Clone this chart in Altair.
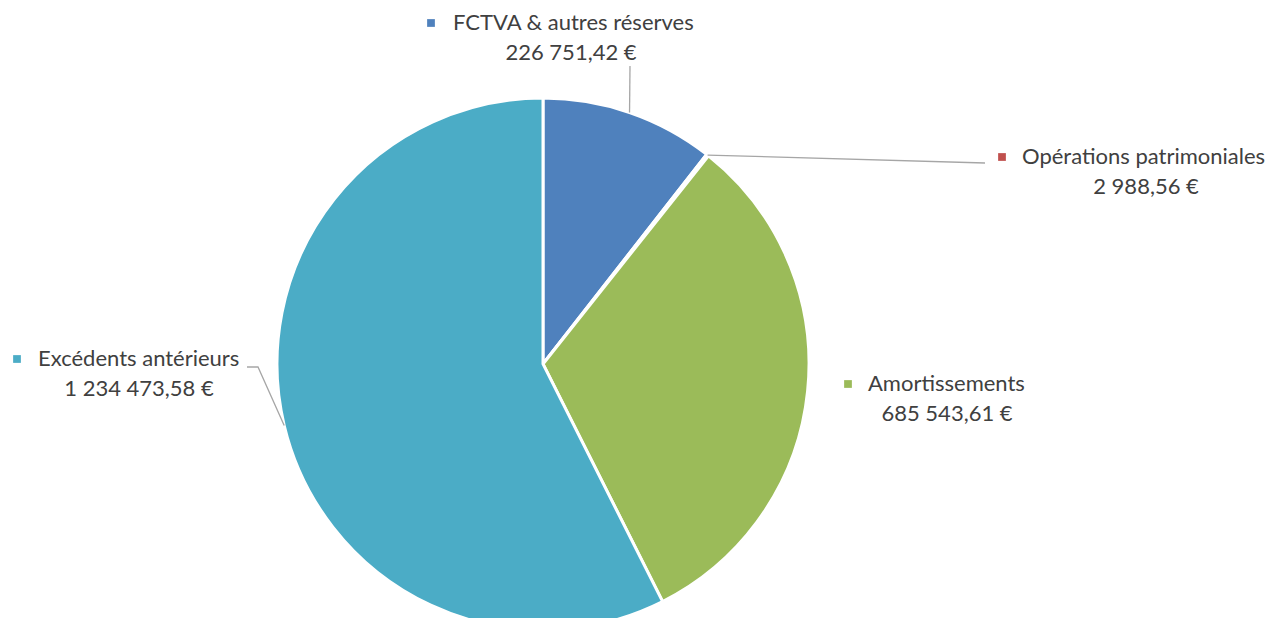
import math
import altair as alt
import pandas as pd

categories = ["FCTVA & autres réserves", "Opérations patrimoniales", "Amortissements", "Excédents antérieurs"]
values = [226751.42, 2988.56, 685543.61, 1234473.58]
value_labels = ["226 751,42 €", "2 988,56 €", "685 543,61 €", "1 234 473,58 €"]
colors = ["#4F81BD", "#C0504D", "#9BBB59", "#4BACC6"]

W, H = 1271, 610
CX, CY, R = 535, 356, 266
FONT = "Lato"
TXT = "#404040"
FS = 22

# label layout (chart pixel coords): marker x, name line left x, name line y, value centre x, value y
label_layout = {
    "FCTVA & autres réserves": dict(mx=423, nx=445, ny=15, vx=563, vy=45),
    "Opérations patrimoniales": dict(mx=994, nx=1014, ny=149, vx=1138, vy=179),
    "Amortissements": dict(mx=840, nx=860, ny=376, vx=939, vy=406),
    "Excédents antérieurs": dict(mx=9, nx=30, ny=351, vx=131, vy=381),
}
# leader elbows / end points (chart pixel coords), start computed from slice mid-angle
leader_ends = {
    "FCTVA & autres réserves": [(622, 58)],
    "Opérations patrimoniales": [(977, 155)],
    "Excédents antérieurs": [(250, 359), (239, 359)],
}

df = pd.DataFrame({"cat": categories, "val": values, "idx": range(len(values))})

pie = alt.Chart(df).mark_arc(stroke="white", strokeWidth=3, outerRadius=R).encode(
    theta=alt.Theta("val:Q", stack=True),
    order=alt.Order("idx:Q", sort="ascending"),
    color=alt.Color("cat:N", scale=alt.Scale(domain=categories, range=colors), legend=None),
    x=alt.value(CX),
    y=alt.value(CY),
)

total = sum(values)
cum = 0
line_rows = []
for c, v in zip(categories, values):
    mid = (cum + v / 2) / total * 2 * math.pi
    cum += v
    if c not in leader_ends:
        continue
    sx = CX + R * math.sin(mid)
    sy = CY - R * math.cos(mid)
    pts = [(sx, sy)] + leader_ends[c]
    for i, (px, py) in enumerate(pts):
        line_rows.append({"cat": c, "i": i, "x": px, "y": py})
ldf = pd.DataFrame(line_rows)

leaders = alt.Chart(ldf).mark_line(color="#A6A6A6", strokeWidth=1.3).encode(
    x=alt.X("x:Q", scale=None, axis=None),
    y=alt.Y("y:Q", scale=None, axis=None),
    detail="cat:N",
    order="i:Q",
)

lab_rows = []
for c, vl in zip(categories, value_labels):
    L = label_layout[c]
    lab_rows.append({"cat": c, "vl": vl, **L})
labdf = pd.DataFrame(lab_rows)

markers = alt.Chart(labdf).mark_square(size=60, opacity=1).encode(
    x=alt.X("mx:Q", scale=None, axis=None),
    y=alt.Y("ny:Q", scale=None, axis=None),
    color=alt.Color("cat:N", scale=alt.Scale(domain=categories, range=colors), legend=None),
)
names = alt.Chart(labdf).mark_text(align="left", baseline="middle", font=FONT, fontSize=FS, color=TXT).encode(
    x=alt.X("nx:Q", scale=None, axis=None),
    y=alt.Y("ny:Q", scale=None, axis=None),
    text="cat:N",
)
vals = alt.Chart(labdf).mark_text(align="center", baseline="middle", font=FONT, fontSize=FS, color=TXT).encode(
    x=alt.X("vx:Q", scale=None, axis=None),
    y=alt.Y("vy:Q", scale=None, axis=None),
    text="vl:N",
)

chart = alt.layer(pie, leaders, markers, names, vals).properties(
    width=W, height=H, padding=0, autosize=alt.AutoSizeParams(type="none")
).configure(background="white").configure_view(stroke=None)

chart.save("out.html", embed_options={"renderer": "svg", "actions": False})
